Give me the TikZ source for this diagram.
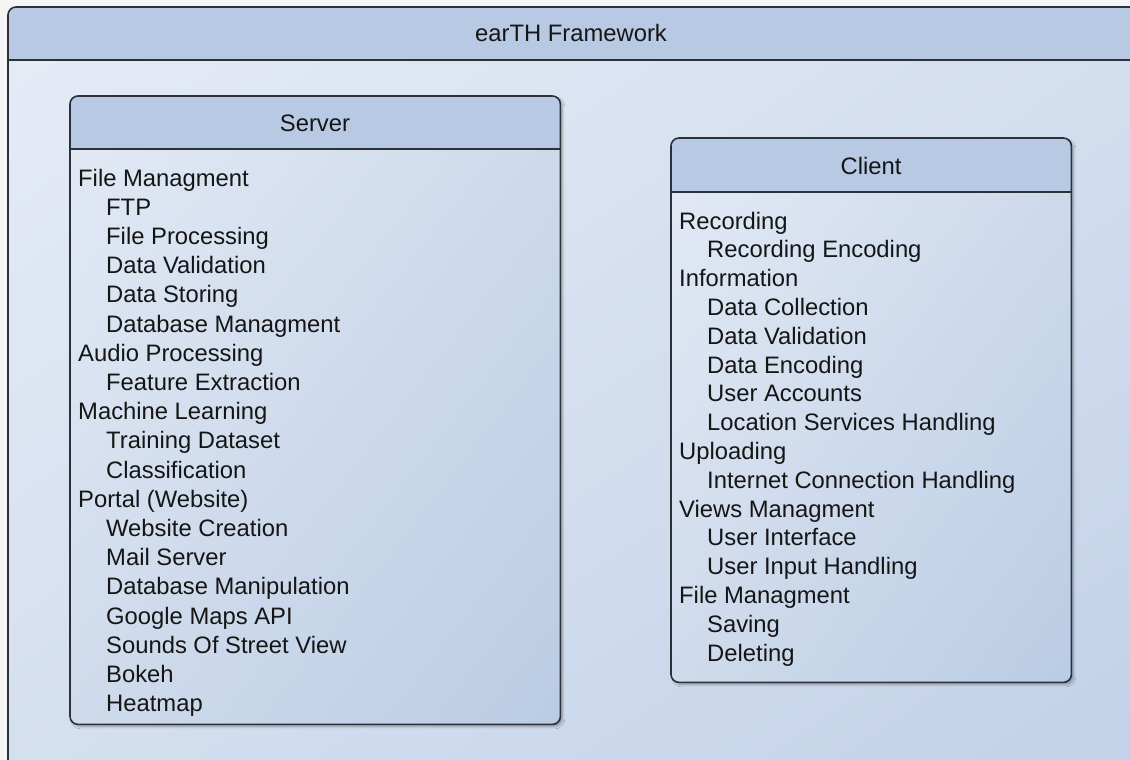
\documentclass[tikz,border=0pt]{standalone}
\usepackage{fontspec}
\setmainfont{Liberation Sans}
\usetikzlibrary{shadows.blur,shadings}
\definecolor{edgec}{HTML}{2B3039}
\definecolor{headc}{HTML}{B8CAE3}
\definecolor{bodyA}{HTML}{E3EAF5}
\definecolor{bodyB}{HTML}{BACCE4}
\definecolor{bodyM}{HTML}{CFDBEC}
\definecolor{outA}{HTML}{E6ECF6}
\definecolor{outB}{HTML}{C2D1E8}
\definecolor{outM}{HTML}{D4DFEF}
\definecolor{bgc}{HTML}{F5F5F5}
\definecolor{textc}{HTML}{151515}
\tikzset{
  txt/.style={font=\fontsize{23.8}{28}\selectfont, inner sep=0pt, text=textc},
  itemtxt/.style={txt, anchor=base west},
  titletxt/.style={txt, anchor=base},
  panelbody/.style={rectangle, anchor=north west, inner sep=0pt, rounded corners=8pt,
     upper left=bodyA, lower right=bodyB, upper right=bodyM, lower left=bodyM},
  panelshadow/.style={blur shadow={shadow xshift=2.5pt, shadow yshift=-2.5pt, shadow blur steps=6, shadow opacity=30}},
  framebody/.style={rectangle, anchor=north west, inner sep=0pt, rounded corners=8pt,
     upper left=outA, lower right=outB, upper right=outM, lower left=outM},
  border/.style={draw=edgec, line width=1.6pt, rounded corners=8pt},
  divider/.style={draw=edgec, line width=1.6pt},
}
\begin{document}
\begin{tikzpicture}[x=1pt,y=-1pt]
\useasboundingbox (0,0) rectangle (1130,760);
\clip (0,0) rectangle (1130,760);
\fill[bgc] (0,0) rectangle (1130,760);

% outer frame
\node[framebody, minimum width=1140pt, minimum height=770pt] (frame) at (8,7) {};
\begin{scope}
  \clip (0,0) rectangle (1130,60);
  \fill[headc, rounded corners=8pt] (8,7) rectangle (1150,90);
\end{scope}
\draw[divider] (frame.west |- 0,60) -- (frame.east |- 0,60);
\draw[border] (frame.north west) rectangle (frame.south east);
\node[titletxt] (frametitle) at (571,42) {earTH Framework};

% server panel
\node[panelbody, panelshadow, minimum width=490pt, minimum height=628pt] (server) at (70,96) {};
\begin{scope}
  \clip (70,96) rectangle (560,149);
  \fill[headc, rounded corners=8pt] (70,96) rectangle (560,170);
\end{scope}
\draw[divider] (server.west |- 0,149) -- (server.east |- 0,149);
\draw[border] (server.north west) rectangle (server.south east);
\node[titletxt] (servertitle) at (315,131) {Server};
\foreach \t/\l [count=\i from 0] in {File Managment/0, FTP/1, File Processing/1, Data Validation/1,
  Data Storing/1, Database Managment/1, Audio Processing/0, Feature Extraction/1,
  Machine Learning/0, Training Dataset/1, Classification/1, Portal (Website)/0,
  Website Creation/1, Mail Server/1, Database Manipulation/1, Google Maps API/1,
  Sounds Of Street View/1, Bokeh/1, Heatmap/1}
  \node[itemtxt] (s\i) at ({78+28*\l},{186+29.2*\i}) {\t};

% client panel
\node[panelbody, panelshadow, minimum width=400pt, minimum height=544pt] (client) at (671,138) {};
\begin{scope}
  \clip (671,138) rectangle (1071,192);
  \fill[headc, rounded corners=8pt] (671,138) rectangle (1071,210);
\end{scope}
\draw[divider] (client.west |- 0,192) -- (client.east |- 0,192);
\draw[border] (client.north west) rectangle (client.south east);
\node[titletxt] (clienttitle) at (871,174) {Client};
\foreach \t/\l [count=\i from 0] in {Recording/0, Recording Encoding/1, Information/0,
  Data Collection/1, Data Validation/1, Data Encoding/1, User Accounts/1,
  Location Services Handling/1, Uploading/0, Internet Connection Handling/1,
  Views Managment/0, User Interface/1, User Input Handling/1, File Managment/0,
  Saving/1, Deleting/1}
  \node[itemtxt] (c\i) at ({679+28*\l},{229+28.8*\i}) {\t};
\end{tikzpicture}
\end{document}
